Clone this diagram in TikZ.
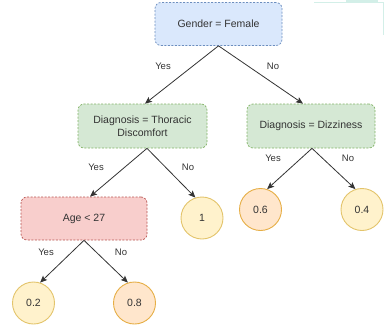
\documentclass[tikz,border=0pt]{standalone}
\usepackage{fontspec}
\setmainfont{Liberation Sans}
\usetikzlibrary{arrows.meta,calc}
\definecolor{txt}{HTML}{333333}
\definecolor{bluef}{HTML}{DAE8FC}\definecolor{blued}{HTML}{6C8EBF}
\definecolor{greenf}{HTML}{D5E8D4}\definecolor{greend}{HTML}{82B366}
\definecolor{redf}{HTML}{F8CECC}\definecolor{redd}{HTML}{B85450}
\definecolor{yelf}{HTML}{FFF2CC}\definecolor{yeld}{HTML}{E3C46B}
\definecolor{oraf}{HTML}{FFE6CC}\definecolor{orad}{HTML}{E6AE45}
\definecolor{edge}{HTML}{333333}
\definecolor{teal}{HTML}{D3EFE8}
\tikzset{
  box/.style={rectangle, rounded corners=6pt, dash pattern=on 2pt off 1.5pt, line width=0.7pt,
    minimum width=127pt, minimum height=43pt, align=center, text=txt,
    font=\fontsize{10.5}{12.5}\selectfont, inner sep=2pt},
  leaf/.style={circle, minimum size=42pt, inner sep=0pt, line width=0.9pt, text=txt,
    font=\fontsize{10.5}{12.5}\selectfont},
  yleaf/.style={leaf, draw=yeld, fill=yelf},
  oleaf/.style={leaf, draw=orad, fill=oraf},
  conn/.style={draw=edge, line width=0.8pt, -{Stealth[length=7pt,width=6pt,inset=1.5pt]}},
  lbl/.style={text=txt, font=\fontsize{9.5}{11}\selectfont, inner sep=0pt}
}
\begin{document}
\begin{tikzpicture}[x=1pt,y=-1pt]
\useasboundingbox (0,0) rectangle (385,324);
% faint artifact top right
\draw[teal, line width=0.8pt] (314,2) -- (383,2) -- (383,35);
\fill[teal] (346,0) rectangle (378,3);

\node[box, draw=blued, fill=bluef] (gen) at (218.5,24) {Gender = Female};
\node[box, draw=greend, fill=greenf, minimum width=129pt, minimum height=44pt] (thor) at (142.5,126) {Diagnosis = Thoracic\\Discomfort};
\node[box, draw=greend, fill=greenf, minimum width=128pt, minimum height=44pt] (diz) at (311,126) {Diagnosis = Dizziness};
\node[box, draw=redd, fill=redf, minimum width=126pt] (age) at (84,218.5) {Age {\textless} 27};

\node[yleaf] (c1) at (202,218) {1};
\node[oleaf] (c06) at (260.5,209.5) {0.6};
\node[yleaf] (c04) at (362,209.5) {0.4};
\node[yleaf] (c02) at (33.5,303) {0.2};
\node[oleaf] (c08) at (134.5,303) {0.8};

\draw[conn] (gen.south) -- ($(thor.north)+(2.5,0)$);
\draw[conn] (gen.south) -- ($(diz.north)+(-8,0)$);
\draw[conn] ($(thor.south)+(4.5,0)$) -- ($(age.north)+(6,0)$);
\draw[conn] ($(thor.south)+(4.5,0)$) -- (c1.108);
\draw[conn] ($(diz.south)+(1,0)$) -- (c06.72);
\draw[conn] ($(diz.south)+(1,0)$) -- (c04.108);
\draw[conn] (age.south) -- (c02.72);
\draw[conn] (age.south) -- (c08.108);

\node[lbl] (l1) at (163,66) {Yes};
\node[lbl] (l2) at (273,66) {No};
\node[lbl] (l3) at (96,167) {Yes};
\node[lbl] (l4) at (188,167) {No};
\node[lbl] (l5) at (273,158) {Yes};
\node[lbl] (l6) at (348,158) {No};
\node[lbl] (l7) at (46,252) {Yes};
\node[lbl] (l8) at (121,252) {No};
\end{tikzpicture}
\end{document}
